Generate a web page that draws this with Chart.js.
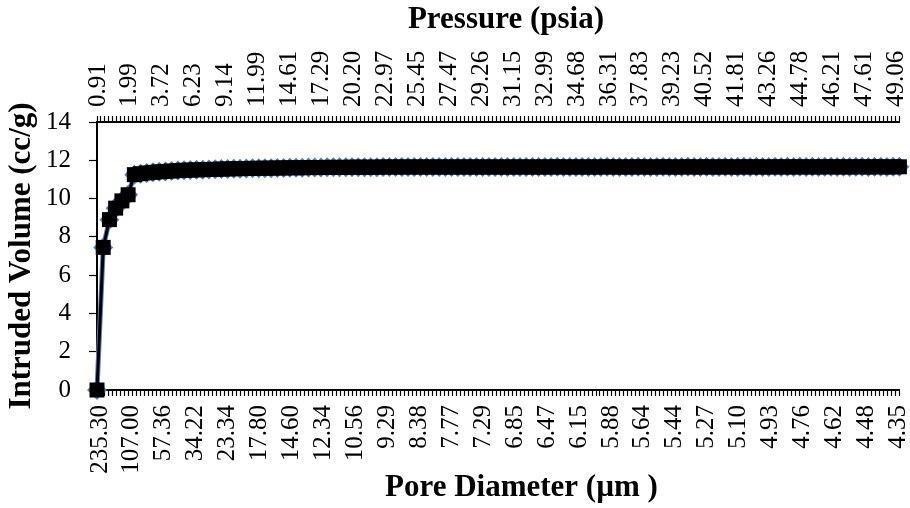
<!DOCTYPE html>
<html>
<head>
<meta charset="utf-8">
<script src="https://cdn.jsdelivr.net/npm/chart.js@4.4.1/dist/chart.umd.min.js"></script>
<style>
  html, body { margin: 0; padding: 0; background: #ffffff; }
  canvas { display: block; }
</style>
</head>
<body>
<canvas id="chart" width="910" height="508"></canvas>
<script>
// Pore diameter (µm) labels shown on the bottom axis, one every labelStep slots
const diameterLabels = [
  '235.30', '107.00', '57.36', '34.22', '23.34', '17.80', '14.60', '12.34', '10.56',
  '9.29', '8.38', '7.77', '7.29', '6.85', '6.47', '6.15', '5.88', '5.64', '5.44',
  '5.27', '5.10', '4.93', '4.76', '4.62', '4.48', '4.35'
];

// Pressure (psia) labels shown on the top axis
const pressureLabels = [
  '0.91', '1.99', '3.72', '6.23', '9.14', '11.99', '14.61', '17.29', '20.20',
  '22.97', '25.45', '27.47', '29.26', '31.15', '32.99', '34.68', '36.31', '37.83',
  '39.23', '40.52', '41.81', '43.26', '44.78', '46.21', '47.61', '49.06'
];

// Tick slots along each category axis and how often one carries a label
const tickSlots = 202;
const labelStep = 8;

// Cumulative intruded volume (cc/g) for each measurement step
const intrudedVolume = [
  0.00, 7.45, 8.90, 9.50, 9.88, 10.20, 11.25, 11.30, 11.34, 11.37,
  11.40, 11.42, 11.44, 11.46, 11.48, 11.49, 11.50, 11.51, 11.52, 11.53,
  11.54, 11.55, 11.56, 11.56, 11.57, 11.58, 11.58, 11.59, 11.59, 11.60,
  11.60, 11.61, 11.61, 11.61, 11.62, 11.62, 11.62, 11.63, 11.63, 11.63,
  11.63, 11.64, 11.64, 11.64, 11.64, 11.64, 11.65, 11.65, 11.65, 11.65,
  11.65, 11.65, 11.65, 11.65, 11.65, 11.65, 11.65, 11.65, 11.65, 11.65,
  11.65, 11.65, 11.65, 11.65, 11.65, 11.65, 11.65, 11.65, 11.65, 11.65,
  11.65, 11.65, 11.65, 11.65, 11.66, 11.65, 11.65, 11.65, 11.65, 11.65,
  11.65, 11.65, 11.66, 11.65, 11.65, 11.65, 11.65, 11.66, 11.65, 11.65,
  11.65, 11.66, 11.65, 11.65, 11.65, 11.66, 11.65, 11.65, 11.66, 11.65,
  11.65, 11.66, 11.65, 11.65, 11.66, 11.65, 11.66, 11.65, 11.65, 11.66,
  11.65, 11.66, 11.65, 11.66, 11.65, 11.66, 11.65, 11.66, 11.66, 11.65,
  11.66, 11.65, 11.66, 11.66, 11.65, 11.66, 11.66, 11.65, 11.66, 11.66
];

const bottomSlots = Array.from({ length: tickSlots }, (_, i) =>
  i % labelStep === 0 ? diameterLabels[i / labelStep] : '');
const topSlots = Array.from({ length: tickSlots }, (_, i) =>
  i % labelStep === 0 ? pressureLabels[i / labelStep] : '');

const points = intrudedVolume.map((v, i) => ({ x: i, y: v }));

const serif = 'Liberation Serif, Times New Roman, serif';
const tickFont = { family: serif, size: 25 };
const titleFont = { family: serif, size: 31, weight: 'bold' };

// Axis titles; the leading spaces nudge the centred text a little to the right
const bottomTitle = '      Pore Diameter (µm )';
const topTitle = '  Pressure (psia)';
const sideTitle = 'Intruded Volume (cc/g)';

// Fixed-size category axis carrying only tick marks and sparse labels
const categoryAxis = (labels, position, height, titleText, titlePad, tickPad, labelShift) => ({
  type: 'category',
  position: position,
  labels: labels,
  offset: false,
  afterFit: (scale) => {
    scale.height = height;
    scale.paddingLeft = 0;
    scale.paddingRight = 0;
  },
  border: { display: true, color: '#000000', width: 2 },
  grid: {
    display: true,
    drawOnChartArea: false,
    drawTicks: true,
    tickLength: 6,
    tickWidth: 1.2,
    tickColor: '#000000',
    offset: false
  },
  ticks: {
    autoSkip: false,
    maxRotation: 90,
    minRotation: 90,
    padding: tickPad,
    labelOffset: labelShift,
    color: '#000000',
    font: tickFont,
    callback: function (value, index) { return labels[index]; }
  },
  title: {
    display: true,
    text: titleText,
    color: '#000000',
    font: titleFont,
    padding: titlePad
  }
});

new Chart(document.getElementById('chart'), {
  type: 'line',
  data: {
    datasets: [
      {
        label: 'Intruded Volume',
        data: points,
        xAxisID: 'xd',
        yAxisID: 'y',
        order: 0,
        clip: false,
        borderColor: '#000000',
        borderWidth: 3,
        backgroundColor: '#000000',
        pointStyle: 'rect',
        pointRadius: 10.6,
        pointBorderWidth: 0,
        pointBackgroundColor: '#000000',
        tension: 0
      },
      {
        label: 'Intruded Volume outline',
        data: points,
        xAxisID: 'xd',
        yAxisID: 'y',
        order: 1,
        clip: false,
        borderColor: '#4F81BD',
        borderWidth: 5,
        backgroundColor: '#4F81BD',
        pointStyle: 'rectRot',
        pointRadius: 10,
        pointBorderWidth: 0,
        pointBackgroundColor: '#4F81BD',
        tension: 0
      }
    ]
  },
  options: {
    responsive: false,
    animation: false,
    devicePixelRatio: 1,
    layout: { padding: { left: 0, right: 2, top: 0, bottom: 0 } },
    plugins: {
      legend: { display: false },
      tooltip: { enabled: false }
    },
    scales: {
      x: categoryAxis(bottomSlots, 'bottom', 118, bottomTitle, { top: 0, bottom: 1 }, 9, 3),
      x2: categoryAxis(topSlots, 'top', 122, topTitle, { top: 1, bottom: 0 }, 9, 31),
      xd: {
        type: 'linear',
        display: false,
        min: 0,
        max: intrudedVolume.length - 1
      },
      y: {
        type: 'linear',
        position: 'left',
        min: 0,
        max: 14,
        afterFit: (scale) => {
          scale.width = 97;
          scale.paddingTop = 0;
          scale.paddingBottom = 0;
        },
        border: { display: true, color: '#000000', width: 2 },
        grid: {
          display: true,
          drawOnChartArea: false,
          drawTicks: true,
          tickLength: 8,
          tickWidth: 1.2,
          tickColor: '#000000'
        },
        ticks: {
          stepSize: 2,
          padding: 18,
          color: '#000000',
          font: tickFont
        },
        title: {
          display: true,
          text: sideTitle,
          color: '#000000',
          font: titleFont,
          padding: { top: 3, bottom: 0 }
        }
      }
    }
  }
});
</script>
</body>
</html>
